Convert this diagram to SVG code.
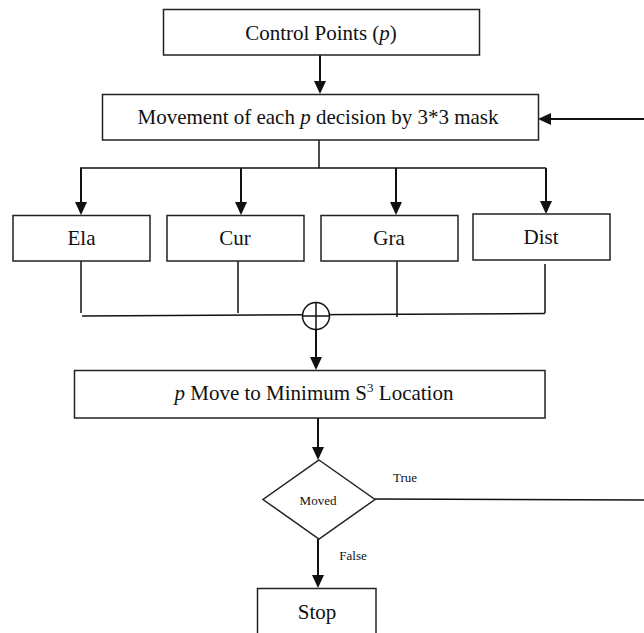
<svg xmlns="http://www.w3.org/2000/svg" width="644" height="633" viewBox="0 0 644 633">
<style>
.box{fill:#fff;stroke:#222;stroke-width:1.5}
.ln{fill:none;stroke:#111;stroke-width:1.5}
.th{stroke-width:2}
.ah{fill:#111}
text{font-family:"Liberation Serif","Times New Roman",serif;fill:#111;text-anchor:middle}
.t{font-size:21px}
.s{font-size:13px}
</style>
<rect width="644" height="633" fill="#fff"/>
<g id="connectors">
<line class="ln th" x1="320" y1="55" x2="320" y2="82"/>
<path class="ah" d="M314,81 L326,81 L320,94 z"/>
<line class="ln th" x1="644" y1="119" x2="550" y2="119"/>
<path class="ah" d="M551,113 L551,125 L538,119 z"/>
<line class="ln" x1="319" y1="140" x2="319" y2="168"/>
<line class="ln" x1="80" y1="168" x2="546" y2="168"/>
<line class="ln th" x1="81" y1="168" x2="81" y2="203"/>
<path class="ah" d="M75,202 L87,202 L81,215 z"/>
<line class="ln th" x1="241" y1="168" x2="241" y2="203"/>
<path class="ah" d="M235,202 L247,202 L241,215 z"/>
<line class="ln th" x1="396" y1="168" x2="396" y2="203"/>
<path class="ah" d="M390,202 L402,202 L396,215 z"/>
<line class="ln th" x1="546" y1="168" x2="546" y2="202"/>
<path class="ah" d="M540,201 L552,201 L546,214 z"/>
<line class="ln" x1="81" y1="261" x2="81" y2="313"/>
<line class="ln" x1="238" y1="261" x2="238" y2="313"/>
<line class="ln" x1="397" y1="261" x2="397" y2="317"/>
<line class="ln" x1="545" y1="264" x2="545" y2="313"/>
<line class="ln" x1="82" y1="316" x2="545" y2="313.5"/>
<line class="ln th" x1="316" y1="330" x2="316" y2="358"/>
<path class="ah" d="M310,357 L322,357 L316,370 z"/>
<line class="ln th" x1="318" y1="418" x2="318" y2="448"/>
<path class="ah" d="M312,447 L324,447 L318,460 z"/>
<line class="ln" x1="375" y1="499" x2="644" y2="500"/>
<line class="ln th" x1="318" y1="539" x2="318" y2="576"/>
<path class="ah" d="M312,575 L324,575 L318,588 z"/>
<text class="s" x="405" y="482">True</text>
<text class="s" x="353" y="560">False</text>
</g>
<g id="sum">
<circle cx="316" cy="316" r="13.5" fill="#fff" stroke="#111" stroke-width="1.5"/>
<line class="ln" x1="302.5" y1="316" x2="329.5" y2="316"/>
<line class="ln" x1="316" y1="302.5" x2="316" y2="329.5"/>
</g>
<g id="control-points">
<rect class="box" x="163.5" y="9.5" width="316" height="45.5"/>
<text class="t" x="321" y="40">Control Points (<tspan font-style="italic">p</tspan>)</text>
</g>
<g id="movement">
<rect class="box" x="102.5" y="94.5" width="436" height="45.5"/>
<text class="t" x="318" y="124">Movement of each <tspan font-style="italic">p</tspan> decision by 3*3 mask</text>
</g>
<g id="ela">
<rect class="box" x="13" y="215.5" width="137" height="45.5"/>
<text class="t" x="81.5" y="245">Ela</text>
</g>
<g id="cur">
<rect class="box" x="167" y="215.5" width="137" height="45.5"/>
<text class="t" x="235" y="245">Cur</text>
</g>
<g id="gra">
<rect class="box" x="321" y="215.5" width="137" height="45.5"/>
<text class="t" x="389" y="245">Gra</text>
</g>
<g id="dist">
<rect class="box" x="473" y="214" width="137" height="46"/>
<text class="t" x="541" y="244">Dist</text>
</g>
<g id="move-min">
<rect class="box" x="74.5" y="370.5" width="470.5" height="47.5"/>
<text class="t" x="314" y="400"><tspan font-style="italic">p</tspan> Move to Minimum S<tspan font-size="13" dy="-8">3</tspan><tspan dy="8"> Location</tspan></text>
</g>
<g id="moved">
<path d="M319,460 L375,499.5 L319,539 L263,499.5 z" fill="#fff" stroke="#222" stroke-width="1.5"/>
<text class="s" x="318" y="504.5">Moved</text>
</g>
<g id="stop">
<rect class="box" x="257.5" y="588.5" width="118.5" height="60"/>
<text class="t" x="317" y="619">Stop</text>
</g>
</svg>
